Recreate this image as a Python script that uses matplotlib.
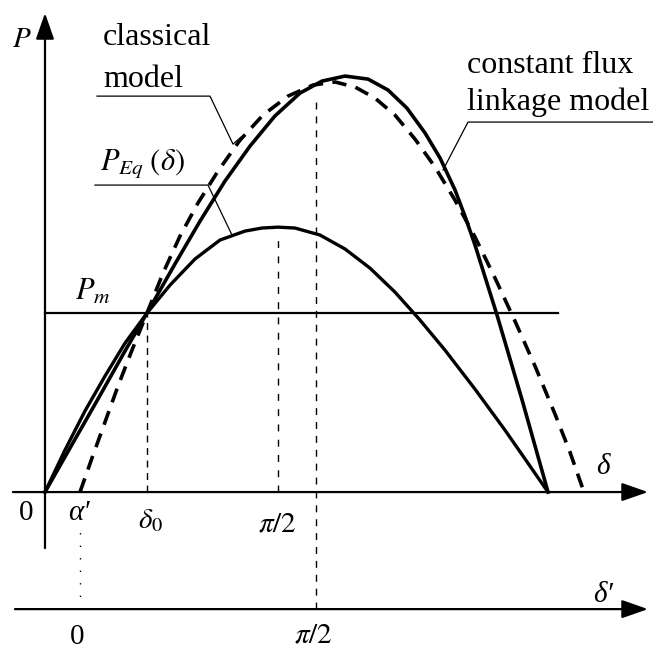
import matplotlib.pyplot as plt

plt.rcParams['font.family'] = ['Liberation Serif', 'DejaVu Serif']
plt.rcParams['mathtext.fontset'] = 'stix'

# power-angle curves, delta in degrees, power in units of Pm
delta_eq = [0, 7.73, 15.45, 23.18, 30.90, 39.40, 48.28, 57.94, 67.60, 77.25,
            83.82, 90.0, 96.57, 106.22, 115.88, 125.54, 135.19, 144.85, 154.50,
            166.09, 177.68, 187.34, 194.29]
p_eq = [0, 0.235, 0.453, 0.648, 0.832, 1.0, 1.156, 1.302, 1.408, 1.458,
        1.475, 1.480, 1.475, 1.436, 1.358, 1.251, 1.117, 0.961, 0.793,
        0.575, 0.346, 0.145, 0]

delta_flux = [0, 9.66, 20.47, 30.90, 39.40, 50.2, 59.9, 69.5, 79.2, 88.8, 98.5,
              107.0, 115.9, 124.8, 132.5, 139.8, 146.8, 152.6, 158.4, 162.2,
              166.1, 174.6, 184.3, 194.3]
p_flux = [0, 0.246, 0.520, 0.788, 1.0, 1.274, 1.514, 1.737, 1.933, 2.101, 2.229,
          2.296, 2.324, 2.307, 2.246, 2.145, 2.006, 1.866, 1.687, 1.542,
          1.380, 0.989, 0.514, 0]

delta_classic = [13.52, 18.15, 23.18, 28.20, 33.60, 39.40, 45.58, 52.15, 59.10,
                 66.82, 75.32, 84.20, 93.86, 103.52, 112.02, 119.74, 127.47,
                 135.19, 142.92, 150.64, 158.37, 166.09, 173.82, 181.54, 189.27,
                 196.99, 202.79, 208.19]
p_classic = [0, 0.190, 0.391, 0.592, 0.793, 1.0, 1.223, 1.430, 1.615, 1.793,
             1.966, 2.106, 2.212, 2.274, 2.291, 2.263, 2.201, 2.106, 1.972,
             1.816, 1.631, 1.425, 1.196, 0.955, 0.704, 0.436, 0.223, 0]

p_m = 1.0
delta_0 = 39.4
half_pi = 90.0
alpha_prime = 13.5
half_pi_prime = 104.5
p_eq_max = 1.48
p_flux_top = 2.20
dprime_level = -0.654

fig = plt.figure(figsize=(6.53, 6.51), dpi=100)
ax = fig.add_axes([0, 0, 1, 1])
ax.set_xlim(-17.38, 234.85)
ax.set_ylim(-0.888, 2.749)
ax.axis('off')

# axes with arrow heads
arrow = dict(arrowstyle='-|>,head_length=0.8,head_width=0.28', mutation_scale=20,
             lw=1.6, color='k', shrinkA=0, shrinkB=0)
ax.annotate('', xy=(0, 2.676), xytext=(0, -0.313), arrowprops=arrow)
ax.annotate('', xy=(232.9, 0), xytext=(-12.4, 0), arrowprops=arrow)
ax.annotate('', xy=(232.9, dprime_level), xytext=(-11.6, dprime_level), arrowprops=arrow)

# curves
ax.plot(delta_eq, p_eq, color='k', lw=2.4, solid_joinstyle='round')
ax.plot(delta_flux, p_flux, color='k', lw=2.6, solid_joinstyle='round')
ax.plot(delta_classic, p_classic, color='k', lw=2.6, ls=(0, (4, 2.6)))

# mechanical power
ax.plot([0, 198.15], [p_m, p_m], color='k', lw=1.6)

# guide lines
ax.plot([delta_0, delta_0], [0, p_m], color='k', lw=1.0, ls=(0, (5, 4)))
ax.plot([half_pi, half_pi], [0, p_eq_max - 0.03], color='k', lw=1.0, ls=(0, (5, 6)))
ax.plot([half_pi_prime, half_pi_prime], [dprime_level, p_flux_top], color='k',
        lw=1.0, ls=(0, (5, 5)))
ax.plot([alpha_prime, alpha_prime], [dprime_level, -0.196], color='k',
        lw=1.0, ls=(0, (1, 8)))

# leader lines
ax.plot([20.09, 63.73, 72.62, 75.71], [2.212, 2.212, 1.944, 1.983], color='k', lw=0.9)
ax.plot([234.85, 163.39, 153.73], [2.067, 2.067, 1.799], color='k', lw=0.9)
ax.plot([19.31, 62.96, 72.23], [1.715, 1.715, 1.436], color='k', lw=0.9)

# labels
ax.text(-8.9, 2.525, '$P$', fontsize=21, ha='center', va='center')
ax.text(22.4, 2.497, 'classical', fontsize=23, va='baseline')
ax.text(22.4, 2.263, 'model', fontsize=23, va='baseline')
ax.text(163.0, 2.341, 'constant flux', fontsize=23, va='baseline')
ax.text(163.0, 2.134, 'linkage model', fontsize=23, va='baseline')
ax.text(21.2, 1.799, r'$P_{Eq}\;(\delta)$', fontsize=22, va='baseline')
ax.text(11.6, 1.073, '$P_m$', fontsize=22, va='baseline')

ax.text(-7.34, -0.117, '0', fontsize=21, ha='center', va='center')
ax.text(13.1, -0.117, 'α′', fontsize=21, style='italic', ha='center', va='center')
ax.text(40.6, -0.162, r'$\delta_0$', fontsize=21, ha='center', va='center')
ax.text(89.6, -0.184, r'$\pi/2$', fontsize=21, ha='center', va='center')
ax.text(215.5, 0.140, 'δ', fontsize=21, style='italic', ha='center', va='center')

ax.text(12.4, -0.808, '0', fontsize=21, ha='center', va='center')
ax.text(103.5, -0.800, r'$\pi/2$', fontsize=21, ha='center', va='center')
ax.text(215.5, -0.575, 'δ′', fontsize=21, style='italic', ha='center', va='center')

fig.savefig('out.png', dpi=100)
